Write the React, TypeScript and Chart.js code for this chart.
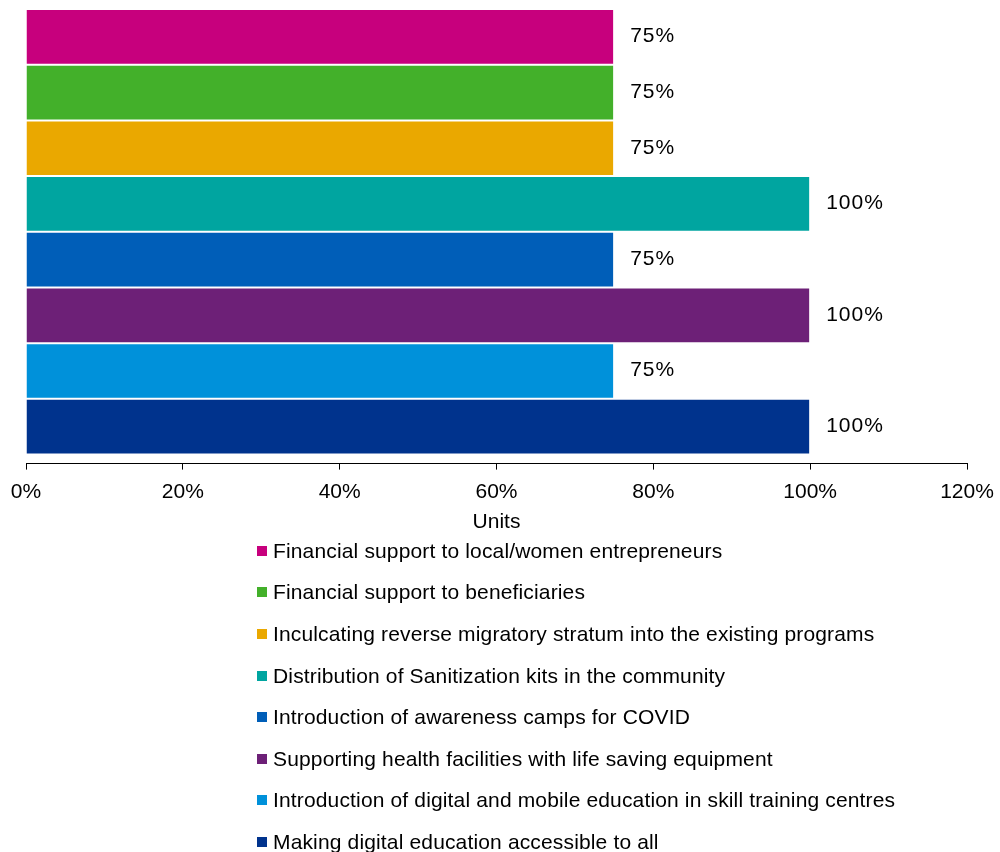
import React, { useEffect, useRef } from "react";
import { Chart, registerables } from "chart.js";

Chart.register(...registerables);

const seriesLabels = [
  "Financial support to local/women entrepreneurs",
  "Financial support to beneficiaries",
  "Inculcating reverse migratory stratum into the existing programs",
  "Distribution of Sanitization kits in the community",
  "Introduction of awareness camps for COVID",
  "Supporting health facilities with life saving equipment",
  "Introduction of digital and mobile education in skill training centres",
  "Making digital education accessible to all",
];
const seriesValues = [75, 75, 75, 100, 75, 100, 75, 100];
const seriesColors = [
  "#C7007D",
  "#43B02A",
  "#EAA800",
  "#00A5A0",
  "#005EB8",
  "#6D2077",
  "#0091DA",
  "#00338D",
];
const categories = ["Units"];
const xTicks = { min: 0, max: 120, step: 20 };

const FONT = "'Liberation Sans', Arial, sans-serif";

const valueLabelPlugin = {
  id: "valueLabels",
  afterDatasetsDraw(chart: any) {
    const ctx = chart.ctx;
    ctx.save();
    ctx.font = `21px ${FONT}`;
    try { (ctx as any).letterSpacing = "1px"; } catch (e) {}
    ctx.fillStyle = "#000";
    ctx.textBaseline = "middle";
    ctx.textAlign = "left";
    chart.data.datasets.forEach((ds: any, i: number) => {
      const meta = chart.getDatasetMeta(i);
      meta.data.forEach((el: any, j: number) => {
        ctx.fillText(ds.data[j] + "%", el.x + 16, el.y - 0.5);
      });
    });
    ctx.restore();
  },
};

export default function App() {
  const ref = useRef<HTMLCanvasElement | null>(null);
  useEffect(() => {
    if (!ref.current) return;
    const chart = new Chart(ref.current, {
      type: "bar",
      data: {
        labels: categories,
        datasets: seriesLabels.map((label, i) => ({
          label,
          data: [seriesValues[i]],
          backgroundColor: seriesColors[i],
          borderColor: "rgba(255,255,255,0.6)",
          borderWidth: 1,
          categoryPercentage: 0.961,
          barPercentage: 1,
        })),
      },
      options: {
        indexAxis: "y",
        animation: false,
        responsive: false,
        maintainAspectRatio: false,
        layout: { padding: { left: 26, right: 33, top: 0, bottom: 0 } },
        plugins: {
          legend: { display: false },
          tooltip: { enabled: false },
        },
        scales: {
          y: { display: false },
          x: {
            min: xTicks.min,
            max: xTicks.max,
            afterFit: (scale: any) => {
              scale.paddingLeft = 0;
              scale.paddingRight = 0;
            },
            ticks: {
              stepSize: xTicks.step,
              callback: (v: any) => v + "%",
              color: "#000",
              font: { size: 21, family: FONT },
              padding: 10,
              maxRotation: 0,
            },
            grid: {
              display: true,
              drawOnChartArea: false,
              drawTicks: true,
              tickLength: 6,
              color: "#000",
            },
            border: { display: true, color: "#000", width: 1 },
            title: {
              display: true,
              text: "Units",
              color: "#000",
              font: { size: 21, family: FONT },
              padding: { top: -5, bottom: 0 },
            },
          },
        },
      },
      plugins: [valueLabelPlugin],
    });
    return () => chart.destroy();
  }, []);

  return (
    <div style={{ position: "absolute", left: 0, top: 0, width: 1000, height: 852, background: "#fff", fontFamily: FONT }}>
      <canvas ref={ref} width={1000} height={535} style={{ width: 1000, height: 535, display: "block" }} />
      <div style={{ position: "absolute", left: 257, top: 530 }}>
        {seriesLabels.map((label, i) => (
          <div key={label} style={{ height: 41.6, display: "flex", alignItems: "center", fontSize: 21, letterSpacing: "0.15px", color: "#000", whiteSpace: "nowrap" }}>
            <span style={{ display: "inline-block", width: 10, height: 10, background: seriesColors[i], marginRight: 6 }} />
            <span>{label}</span>
          </div>
        ))}
      </div>
    </div>
  );
}
